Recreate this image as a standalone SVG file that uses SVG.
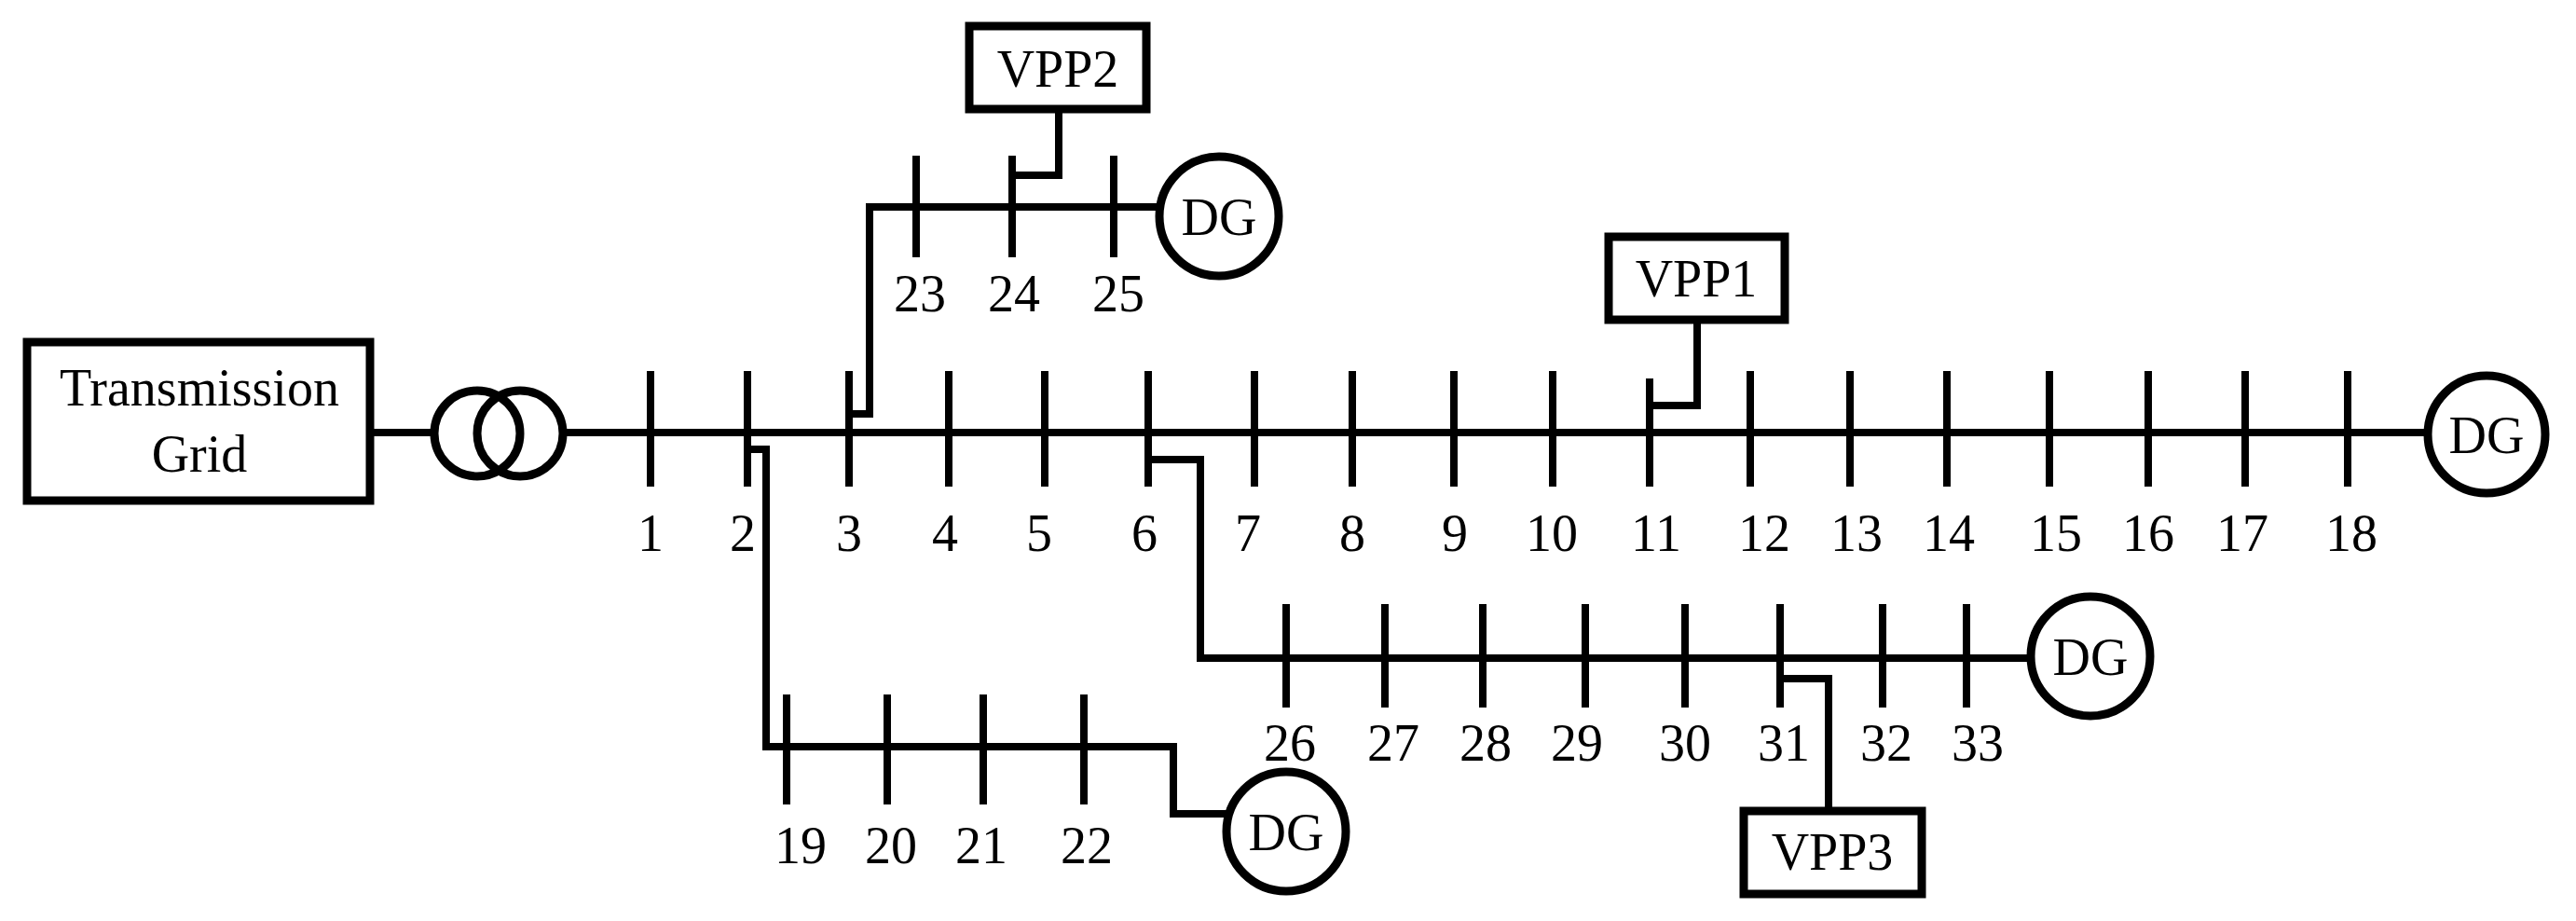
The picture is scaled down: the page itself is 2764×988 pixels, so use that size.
<svg xmlns="http://www.w3.org/2000/svg" width="2764" height="988" viewBox="0 0 2764 988">
<style>
.l{fill:none;stroke:#000;stroke-width:8;stroke-linejoin:miter}
.b{fill:#fff;stroke:#000;stroke-width:9}
text{font-family:"Liberation Serif","Times New Roman",serif;font-size:56px;text-anchor:middle;fill:#000}
</style>
<rect width="2764" height="988" fill="#fff"/>
<g id="connectors" class="l">
<path d="M397 464H466M600 464H2604"/>
<path d="M698 398V522M802 398V522M911 398V522M1018 398V522M1121 398V522M1232 398V522M1346 398V522M1451 398V522M1560 398V522M1666 398V522M1770 406V522M1878 398V522M1985 398V522M2089 398V522M2199 398V522M2305 398V522M2409 398V522M2519 398V522"/>
<path d="M911 444H933V222H1244"/>
<path d="M983 167V276M1086 167V276M1195 167V276"/>
<path d="M1086 188H1136V117"/>
<path d="M1770 435H1821V343"/>
<path d="M802 482H822V801H1259V873H1316"/>
<path d="M844 745V863M952 745V863M1055 745V863M1163 745V863"/>
<path d="M1232 493H1288V706H2179"/>
<path d="M1380 648V759M1486 648V759M1591 648V759M1701 648V759M1808 648V759M1910 648V759M2020 648V759M2110 648V759"/>
<path d="M1910 728H1962V870"/>
</g>
<g id="grid"><rect class="b" x="29" y="367" width="368" height="170"/><text x="214" y="435">Transmission</text><text x="214" y="506">Grid</text></g>
<g id="transformer"><circle class="b" cx="512" cy="465" r="46" fill="none" style="fill:none"/><circle class="b" cx="558" cy="465" r="46" style="fill:none"/></g>
<g id="vpp1"><rect class="b" x="1726" y="254" width="189" height="89"/><text x="1820" y="318">VPP1</text></g>
<g id="vpp2"><rect class="b" x="1040" y="28" width="190" height="89"/><text x="1135" y="93">VPP2</text></g>
<g id="vpp3"><rect class="b" x="1871" y="870" width="191" height="89"/><text x="1966" y="933">VPP3</text></g>
<g id="dg1"><circle class="b" cx="2668" cy="466" r="63"/><text x="2668" y="486">DG</text></g>
<g id="dg2"><circle class="b" cx="1308" cy="232" r="64"/><text x="1308" y="252">DG</text></g>
<g id="dg3"><circle class="b" cx="2243" cy="704" r="64"/><text x="2243" y="724">DG</text></g>
<g id="dg4"><circle class="b" cx="1380" cy="892" r="64"/><text x="1380" y="912">DG</text></g>
<g id="labels">
<text x="698" y="591">1</text><text x="797" y="591">2</text><text x="911" y="591">3</text><text x="1014" y="591">4</text><text x="1115" y="591">5</text><text x="1228" y="591">6</text><text x="1339" y="591">7</text><text x="1451" y="591">8</text><text x="1561" y="591">9</text><text x="1665" y="591">10</text><text x="1777" y="591">11</text><text x="1893" y="591">12</text><text x="1992" y="591">13</text><text x="2091" y="591">14</text><text x="2206" y="591">15</text><text x="2305" y="591">16</text><text x="2406" y="591">17</text><text x="2523" y="591">18</text>
<text x="987" y="334">23</text><text x="1088" y="334">24</text><text x="1200" y="334">25</text>
<text x="859" y="926">19</text><text x="956" y="926">20</text><text x="1053" y="926">21</text><text x="1166" y="926">22</text>
<text x="1384" y="816">26</text><text x="1495" y="816">27</text><text x="1594" y="816">28</text><text x="1692" y="816">29</text><text x="1808" y="816">30</text><text x="1914" y="816">31</text><text x="2024" y="816">32</text><text x="2122" y="816">33</text>
</g>
</svg>
